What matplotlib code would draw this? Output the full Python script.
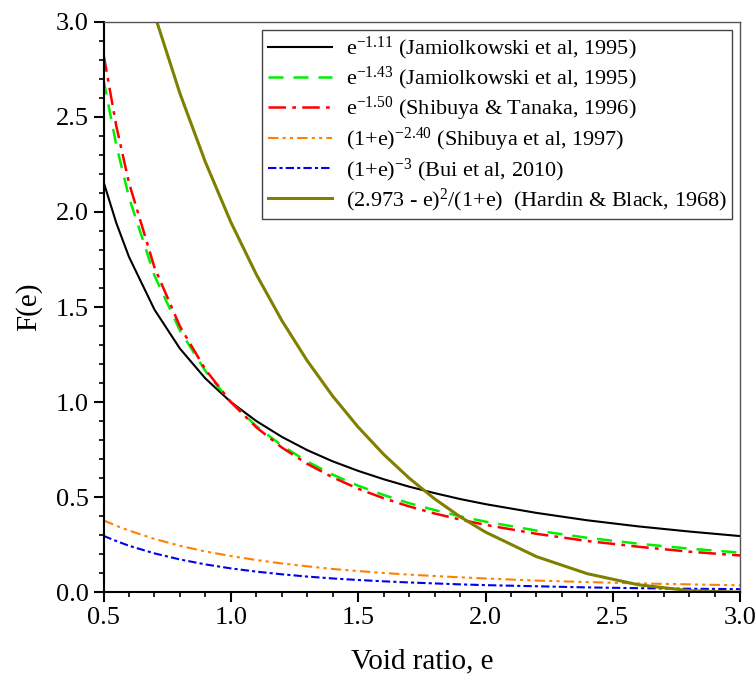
import matplotlib
matplotlib.use("Agg")
import matplotlib.pyplot as plt
from matplotlib.ticker import MultipleLocator

plt.rcParams["font.family"] = ["Liberation Serif", "DejaVu Serif"]
plt.rcParams["mathtext.fontset"] = "custom"
plt.rcParams["mathtext.rm"] = "Liberation Serif"
plt.rcParams["mathtext.it"] = "Liberation Serif:italic"
plt.rcParams["mathtext.bf"] = "Liberation Serif:bold"

# void ratio samples
void_ratio = [0.5, 0.55, 0.6, 0.7, 0.8, 0.9, 1.0, 1.1, 1.2, 1.3, 1.4, 1.5,
              1.6, 1.7, 1.8, 1.9, 2.0, 2.2, 2.4, 2.6, 2.8, 3.0]

jamiol_111 = [2.158, 1.942, 1.763, 1.486, 1.281, 1.124, 1.000, 0.900, 0.817,
              0.747, 0.688, 0.638, 0.594, 0.555, 0.521, 0.490, 0.463, 0.417,
              0.378, 0.346, 0.319, 0.295]
jamiol_143 = [2.695, 2.351, 2.076, 1.665, 1.376, 1.163, 1.000, 0.873, 0.771,
              0.687, 0.618, 0.560, 0.511, 0.468, 0.432, 0.399, 0.371, 0.324,
              0.286, 0.255, 0.229, 0.208]
shibuya_150 = [2.828, 2.452, 2.152, 1.708, 1.398, 1.171, 1.000, 0.867, 0.761,
               0.675, 0.604, 0.544, 0.494, 0.451, 0.414, 0.382, 0.354, 0.307,
               0.269, 0.239, 0.213, 0.193]
shibuya_240 = [0.378, 0.349, 0.324, 0.280, 0.244, 0.214, 0.190, 0.169, 0.151,
               0.136, 0.122, 0.111, 0.101, 0.092, 0.085, 0.078, 0.072, 0.061,
               0.053, 0.046, 0.041, 0.036]
bui_3 = [0.296, 0.269, 0.244, 0.204, 0.172, 0.146, 0.125, 0.108, 0.094,
         0.082, 0.072, 0.064, 0.057, 0.051, 0.046, 0.041, 0.037, 0.031,
         0.025, 0.021, 0.018, 0.016]
hardin = [4.077, 3.788, 3.519, 3.039, 2.623, 2.262, 1.946, 1.671, 1.429,
          1.217, 1.031, 0.868, 0.725, 0.600, 0.491, 0.397, 0.316, 0.187,
          0.097, 0.039, 0.008, 0.000]

labels = [
    r"e$^{-1.11}$ (Jamiolkowski et al, 1995)",
    r"e$^{-1.43}$ (Jamiolkowski et al, 1995)",
    r"e$^{-1.50}$ (Shibuya & Tanaka, 1996)",
    r"(1+e)$^{-2.40}$ (Shibuya et al, 1997)",
    r"(1+e)$^{-3}$ (Bui et al, 2010)",
    r"(2.973 - e)$^{2}$/(1+e)  (Hardin & Black, 1968)",
]


def main():
    fig = plt.figure(figsize=(7.56, 6.83), dpi=100)
    ax = fig.add_axes([0.137, 0.133, 0.842, 0.835])

    ax.plot(void_ratio, jamiol_111, color="black", lw=1.5, label=labels[0])
    ax.plot(void_ratio, jamiol_143, color="#00ee00", lw=1.8,
            dashes=(6, 4), label=labels[1])
    ax.plot(void_ratio, shibuya_150, color="#ff0000", lw=1.8,
            dashes=(7, 2.5, 1.5, 2.5), label=labels[2])
    ax.plot(void_ratio, shibuya_240, color="#ff8000", lw=1.5,
            dashes=(5, 2, 1.5, 2, 1.5, 2), label=labels[3])
    ax.plot(void_ratio, bui_3, color="#0000ee", lw=1.5,
            dashes=(4, 1.5, 1.5, 1.5), label=labels[4])
    ax.plot(void_ratio, hardin, color="#808000", lw=2.2, label=labels[5])

    ax.set_xlim(0.5, 3.0)
    ax.set_ylim(0.0, 3.0)
    ax.xaxis.set_major_locator(MultipleLocator(0.5))
    ax.xaxis.set_minor_locator(MultipleLocator(0.1))
    ax.yaxis.set_major_locator(MultipleLocator(0.5))
    ax.yaxis.set_minor_locator(MultipleLocator(0.1))
    ax.xaxis.set_major_formatter(plt.FormatStrFormatter("%.1f"))
    ax.yaxis.set_major_formatter(plt.FormatStrFormatter("%.1f"))
    ax.tick_params(which="major", direction="out", length=7, width=1.5,
                   labelsize=19, top=False, right=False)
    ax.tick_params(which="minor", direction="out", length=3.5, width=1.2,
                   top=False, right=False)

    for side in ["left", "bottom"]:
        ax.spines[side].set_linewidth(1.5)
    for side in ["top", "right"]:
        ax.spines[side].set_linewidth(1.0)
        ax.spines[side].set_color("#555555")

    ax.set_xlabel("Void ratio, e", fontsize=21, labelpad=14)
    ax.set_ylabel("F(e)", fontsize=21, labelpad=10)

    leg = ax.legend(loc="upper right", fontsize=16, fancybox=False,
                    edgecolor="#444444", framealpha=1, handlelength=2.9,
                    labelspacing=0.12, borderaxespad=0.35, handletextpad=0.6,
                    borderpad=0.25)
    leg.get_frame().set_linewidth(1.0)

    fig.savefig("out.png", dpi=100)
    plt.close()


if __name__ == "__main__":
    main()
